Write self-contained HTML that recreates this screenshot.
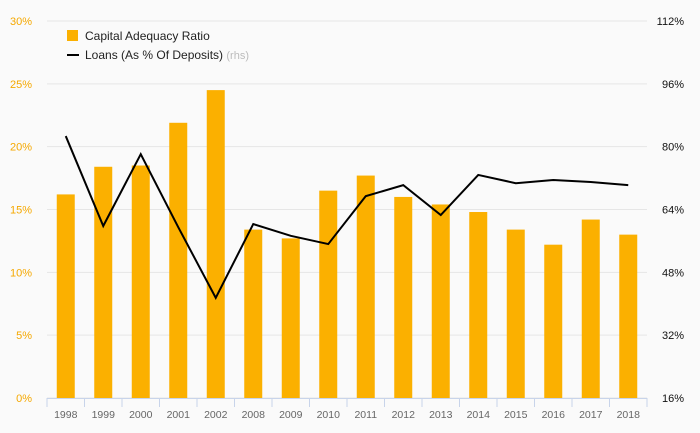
<!DOCTYPE html>
<html><head><meta charset="utf-8"><style>
body{margin:0;background:#fafafa;font-family:"Liberation Sans",sans-serif}
svg{display:block}
</style></head><body>
<svg id="c" width="700" height="433"></svg>
<script>
const categories=["1998","1999","2000","2001","2002","2008","2009","2010","2011","2012","2013","2014","2015","2016","2017","2018"];
const carValues=[16.2,18.4,18.5,21.9,24.5,13.4,12.7,16.5,17.7,16.0,15.4,14.8,13.4,12.2,14.2,13.0];
const loanValues=[82.7,59.8,78.1,59.5,41.5,60.3,57.3,55.2,67.4,70.2,62.6,72.8,70.7,71.5,71.0,70.2];
const leftTicks=[0,5,10,15,20,25,30];
const rightTicks=[16,32,48,64,80,96,112];
const NS="http://www.w3.org/2000/svg";
const svg=document.getElementById('c');
const x0=47,x1=647,yB=398,yT=21;
const bw=(x1-x0)/categories.length;
const xC=i=>x0+bw*(i+0.5);
const yL=v=>yB-(v-0)/(30-0)*(yB-yT);
const yR=v=>yB-(v-16)/(112-16)*(yB-yT);
function mk(t,a,txt){const e=document.createElementNS(NS,t);for(const k in a)e.setAttribute(k,a[k]);if(txt!==undefined)e.textContent=txt;svg.appendChild(e);return e;}
leftTicks.forEach((t,i)=>{
  const g=mk('line',{x1:x0,x2:x1,y1:yL(t),y2:yL(t),stroke:'#e6e6e6','stroke-width':1});
  
  
  const l=mk('text',{x:32,y:yL(t)+4,'text-anchor':'end','font-size':11,fill:'#f5a800'},t+'%');
  
  
});
rightTicks.forEach(t=>{
  const l=mk('text',{x:684,y:yR(t)+4,'text-anchor':'end','font-size':11,fill:'#111'},t+'%');
  
  
});
categories.forEach((c,i)=>{
  const b=mk('rect',{x:xC(i)-9,y:yL(carValues[i]),width:18,height:yB-yL(carValues[i]),fill:'#fbb000'});
  
  
  const l=mk('text',{x:xC(i),y:418,'text-anchor':'middle','font-size':10.5,fill:'#666'},c);
  
  
});
const ax=mk('line',{x1:x0,x2:x1,y1:yB+0.5,y2:yB+0.5,stroke:'#c8d4ea'});


for(let i=0;i<=categories.length;i++){
  const t=mk('line',{x1:x0+bw*i,x2:x0+bw*i,y1:yB,y2:yB+9,stroke:'#c8d4ea'});
  
  
}
const pts=loanValues.map((v,i)=>xC(i)+','+yR(v)).join(' ');
const pl=mk('polyline',{points:pts,fill:'none',stroke:'#000','stroke-width':2});


const r=mk('rect',{x:67,y:30,width:11,height:11,fill:'#fbb000'});


const t1=mk('text',{x:85,y:40,'font-size':12,fill:'#222'},'Capital Adequacy Ratio');


const ll=mk('line',{x1:67,x2:79,y1:55,y2:55,stroke:'#000','stroke-width':2});


const t2=mk('text',{x:85,y:59,'font-size':12,fill:'#222'},'Loans (As % Of Deposits) ');


const ts=document.createElementNS(NS,'tspan');ts.setAttribute('fill','#bbb');ts.setAttribute('font-size','11');ts.textContent='(rhs)';t2.appendChild(ts);
</script>
</body></html>
